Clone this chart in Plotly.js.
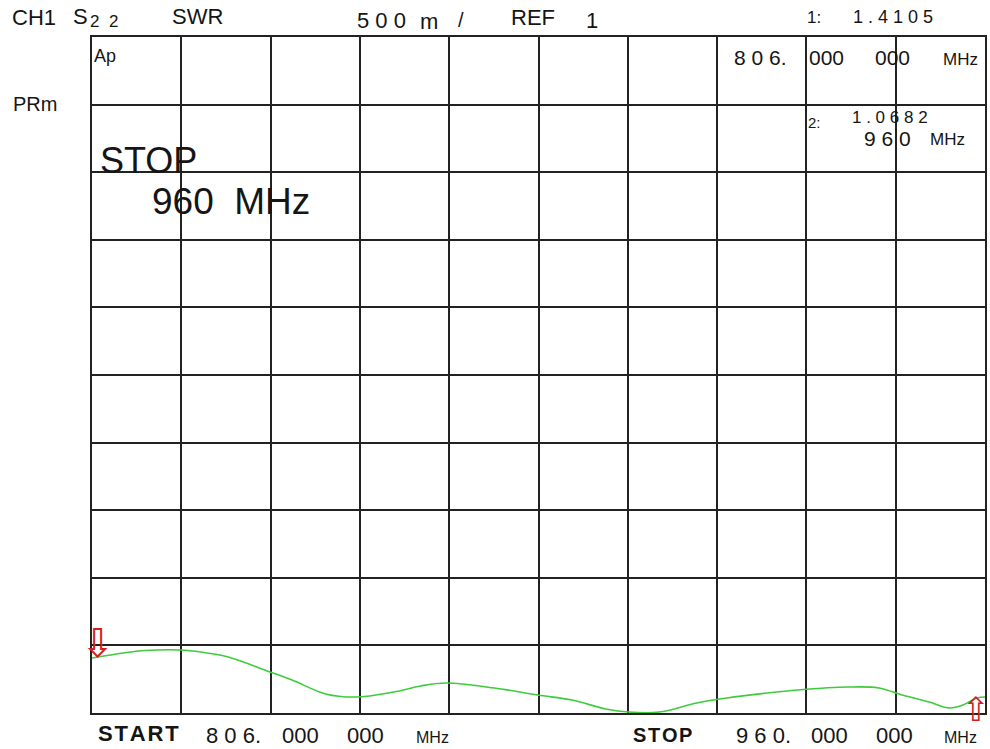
<!DOCTYPE html>
<html>
<head>
<meta charset="utf-8">
<script src="https://cdn.plot.ly/plotly-3.0.1.min.js"></script>
<style>
html,body{margin:0;padding:0;background:#fff;}
#chart{width:990px;height:749px;}
</style>
</head>
<body>
<div id="chart"></div>
<script>
// ---- data ----
const freqMHz = [806.0, 811.4, 815.2, 821.3, 824.8, 829.5, 836.2, 840.5, 846.3, 851.5,
                 858.0, 862.7, 867.0, 875.4, 882.9, 888.8, 894.6, 898.6, 903.8, 910.3,
                 915.5, 922.5, 927.7, 936.4, 941.7, 945.7, 950.4, 953.9, 956.2, 958.6, 960.0];
const swr = [1.407, 1.444, 1.462, 1.466, 1.451, 1.414, 1.311, 1.244, 1.141, 1.118,
             1.155, 1.200, 1.222, 1.185, 1.133, 1.096, 1.030, 1.007, 1.007, 1.074,
             1.111, 1.148, 1.170, 1.192, 1.185, 1.133, 1.081, 1.037, 1.059, 1.111, 1.118];
const startMHz = 806;
const stopMHz = 960;
const refValue = 1;
const perDiv = 0.5;
const divisions = 10;
const markerLabels = ["1:", "2:"];
const markerValues = ["1 . 4 1 0 5", "1 . 0 6 8 2"];

// ---- layout helpers ----
const W = 990, H = 749;
const L = 92, R = 985, T = 37, B = 713;
const px = x => (x - L) / (R - L);
const py = y => (B - y) / (B - T);
const FONT = "Liberation Sans, Arial, sans-serif";
const nb = s => s.replace(/ /g, "\u00A0");
const hs = s => s.split("").join("\u200A");
const ann = [];
function txt(text, x, y, size, opts) {
  const o = opts || {};
  ann.push({
    text: o.bold ? "<b>" + text + "</b>" : text,
    xref: "paper", yref: "paper", x: px(x), y: py(y),
    xanchor: "left", yanchor: "middle", showarrow: false,
    font: {family: FONT, size: size, color: "#151515"}
  });
}

// header
txt("CH1", 10, 18, 22);
txt("S", 71, 16, 22);
txt(nb("2  2"), 88, 22, 17);
txt("SWR", 170, 16, 22);
txt(nb("5 0 0"), 355, 20, 22);
txt("m", 418, 22, 22);
txt("/", 456, 20, 20);
txt("REF", 509, 18, 22);
txt("1", 584, 20, 22);
txt(markerLabels[0], 805, 18, 17);
txt(nb(markerValues[0]), 851, 17, 18);
txt("Ap", 92, 56, 18);
txt("PRm", 11, 104, 20);
txt(nb("8 0 6."), 732, 58, 21);
txt("000", 807, 58, 21);
txt("000", 873, 58, 21);
txt("MHz", 941, 59, 17);
txt(markerLabels[1], 806, 122, 15);
txt(nb(markerValues[1]), 850, 117, 17);
txt(nb("9 6 0"), 862, 138, 21);
txt("MHz", 928, 140, 17);
txt("STOP", 98, 160, 36);
txt(nb("960  MHz"), 150, 201, 37);
// footer
txt(hs("START"), 96, 733, 22, {bold: true});
txt(nb("8 0 6."), 204, 735, 22);
txt("000", 280, 735, 22);
txt("000", 345, 735, 22);
txt("MHz", 414, 737, 16);
txt(hs("STOP"), 631, 735, 20, {bold: true});
txt(nb("9 6 0."), 734, 735, 22);
txt("000", 809, 735, 22);
txt("000", 874, 735, 22);
txt("MHz", 942, 737, 16);

// marker glyphs at trace ends
ann.push({text: "\u21E9", x: freqMHz[0], y: swr[0], xref: "x", yref: "y",
  xanchor: "center", yanchor: "bottom", showarrow: false, yshift: -10, xshift: 6,
  font: {family: "DejaVu Sans", size: 40, color: "#d02020"}});
ann.push({text: "\u21E7", x: freqMHz[freqMHz.length - 1], y: swr[swr.length - 1], xref: "x", yref: "y",
  xanchor: "center", yanchor: "top", showarrow: false, yshift: 9, xshift: -9,
  font: {family: "DejaVu Sans", size: 33, color: "#d02020"}});

const trace = {
  x: freqMHz, y: swr, type: "scatter", mode: "lines",
  line: {color: "#3ccc3c", width: 1.6, shape: "spline", smoothing: 1},
  hoverinfo: "skip", showlegend: false, cliponaxis: false
};

const axisCommon = {
  showgrid: true, gridcolor: "#222", gridwidth: 2,
  showline: true, linecolor: "#222", linewidth: 2, mirror: true,
  zeroline: false, showticklabels: false, ticks: "", fixedrange: true
};

const layout = {
  width: W, height: H,
  margin: {l: L, r: W - R, t: T, b: H - B, pad: 0},
  paper_bgcolor: "#fff", plot_bgcolor: "#fff",
  showlegend: false,
  xaxis: Object.assign({}, axisCommon, {
    range: [startMHz, stopMHz], tick0: startMHz, dtick: (stopMHz - startMHz) / divisions
  }),
  yaxis: Object.assign({}, axisCommon, {
    range: [refValue, refValue + perDiv * divisions], tick0: refValue, dtick: perDiv
  }),
  annotations: ann
};

Plotly.newPlot("chart", [trace], layout, {staticPlot: true, displayModeBar: false});
</script>
</body>
</html>
